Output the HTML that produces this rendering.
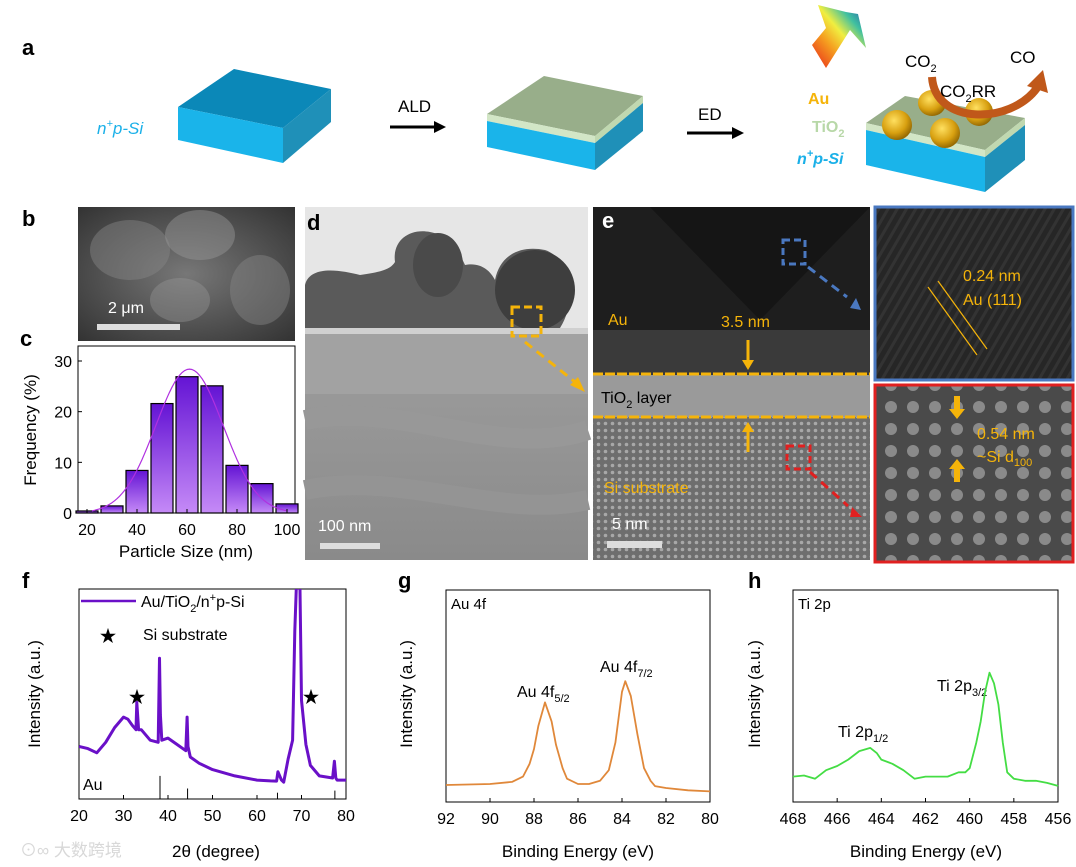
<!DOCTYPE html>
<html><head><meta charset="utf-8"><style>
html,body{margin:0;padding:0;background:#fff;}
svg{display:block;font-family:"Liberation Sans","Noto Sans CJK SC",sans-serif;}
</style></head><body>
<svg id="fig" width="1076" height="867" viewBox="0 0 1076 867" xmlns="http://www.w3.org/2000/svg">
<defs>
<linearGradient id="barGrad" x1="0" y1="0" x2="0" y2="1"><stop offset="0" stop-color="#6414d4"/><stop offset="1" stop-color="#c58af7"/></linearGradient>
<linearGradient id="rainbow" x1="0" y1="1" x2="1" y2="0"><stop offset="0" stop-color="#e8201a"/><stop offset="0.35" stop-color="#f5a020"/><stop offset="0.55" stop-color="#f0ee40"/><stop offset="0.75" stop-color="#40c0a0"/><stop offset="1" stop-color="#2050b0"/></linearGradient>
<radialGradient id="gold" cx="0.4" cy="0.35" r="0.7"><stop offset="0" stop-color="#ffe060"/><stop offset="0.6" stop-color="#d8a010"/><stop offset="1" stop-color="#8a6000"/></radialGradient>
<radialGradient id="semB" cx="0.5" cy="0.5" r="0.7"><stop offset="0" stop-color="#777"/><stop offset="1" stop-color="#333"/></radialGradient>
<linearGradient id="dGrad" x1="0" y1="0" x2="0" y2="1"><stop offset="0" stop-color="#a9a9a9"/><stop offset="1" stop-color="#8a8a8a"/></linearGradient>
<clipPath id="clipF"><rect x="79" y="589" width="267" height="210"/></clipPath>
<pattern id="siDots" width="7" height="7" patternUnits="userSpaceOnUse"><rect width="7" height="7" fill="#6e6e6e"/><circle cx="3.5" cy="3.5" r="1.8" fill="#a8a8a8"/></pattern>
<pattern id="siBig" width="22" height="22" patternUnits="userSpaceOnUse"><rect width="22" height="22" fill="#4a4a4a"/><circle cx="11" cy="11" r="6" fill="#8a8a8a"/></pattern>
<pattern id="auLines" width="8" height="8" patternUnits="userSpaceOnUse" patternTransform="rotate(30)"><rect width="8" height="8" fill="#262626"/><rect width="3" height="8" fill="#333"/></pattern>
</defs>

<!-- Panel a -->
<g>
<text x="22" y="55" font-size="22" font-weight="bold">a</text>
<g>
<polygon points="178,107 234,69 331,89 283,128" fill="#0b88b8"/>
<polygon points="178,107 283,128 283,163 178,140" fill="#1ab4ea"/>
<polygon points="283,128 331,89 331,122 283,163" fill="#1f90b8"/>
</g>
<text x="97" y="134" font-size="17" font-style="italic" fill="#1ab0e8">n<tspan font-size="11" dy="-7">+</tspan><tspan dy="7">p-Si</tspan></text>
<text x="398" y="112" font-size="17">ALD</text>
<g><line x1="390" y1="127" x2="436" y2="127" stroke="#000" stroke-width="3"/><polygon points="434,121 446,127 434,133" fill="#000"/></g>
<g>
<polygon points="487,114 544,76 643,96 595,136" fill="#98ae8a"/>
<polygon points="487,114 595,136 595,143 487,121" fill="#d2e6c6"/>
<polygon points="595,136 643,96 643,103 595,143" fill="#c0d8b0"/>
<polygon points="487,121 595,143 595,170 487,147" fill="#1ab4ea"/>
<polygon points="595,143 643,103 643,131 595,170" fill="#1f90b8"/>
</g>
<text x="698" y="120" font-size="17">ED</text>
<g><line x1="687" y1="133" x2="734" y2="133" stroke="#000" stroke-width="3"/><polygon points="732,127 744,133 732,139" fill="#000"/></g>
<g>
<polygon points="866,123 905,96 1025,118 985,150" fill="#98ae8a"/>
<polygon points="866,123 985,150 985,157 866,130" fill="#d2e6c6"/>
<polygon points="985,150 1025,118 1025,125 985,157" fill="#c0d8b0"/>
<polygon points="866,130 985,157 985,192 866,165" fill="#1ab4ea"/>
<polygon points="985,157 1025,125 1025,160 985,192" fill="#1f90b8"/>
<ellipse cx="897" cy="125" rx="15" ry="15" fill="url(#gold)"/>
<ellipse cx="932" cy="103" rx="14" ry="13" fill="url(#gold)"/>
<ellipse cx="945" cy="133" rx="15" ry="15" fill="url(#gold)"/>
<ellipse cx="979" cy="112" rx="14" ry="14" fill="url(#gold)"/>
</g>
<polygon points="818,5 846,12 858,14 866,48 850,30 826,68 812,45 826,28" fill="url(#rainbow)"/>
<text x="905" y="67" font-size="17">CO<tspan font-size="11" dy="5">2</tspan></text>
<text x="1010" y="63" font-size="17">CO</text>
<path d="M932,77 C935,125 1010,125 1037,88" fill="none" stroke="#c0581a" stroke-width="8"/>
<polygon points="1027,86 1043,70 1048,93" fill="#c0581a"/>
<text x="940" y="97" font-size="17">CO<tspan font-size="11" dy="5">2</tspan><tspan dy="-5">RR</tspan></text>
<text x="808" y="104" font-size="16" font-weight="bold" fill="#f5b40a">Au</text>
<text x="812" y="132" font-size="16" font-weight="bold" fill="#b8d8a8">TiO<tspan font-size="11" dy="5">2</tspan></text>
<text x="797" y="164" font-size="16" font-weight="bold" font-style="italic" fill="#1ab0e8">n<tspan font-size="11" dy="-7">+</tspan><tspan dy="7">p-Si</tspan></text>
</g>

<!-- Panel b -->
<g>
<text x="22" y="226" font-size="22" font-weight="bold">b</text>
<rect x="78" y="207" width="217" height="134" fill="url(#semB)"/>
<ellipse cx="130" cy="250" rx="40" ry="30" fill="#888" opacity="0.45"/>
<ellipse cx="200" cy="235" rx="35" ry="25" fill="#999" opacity="0.45"/>
<ellipse cx="260" cy="290" rx="30" ry="35" fill="#888" opacity="0.45"/>
<ellipse cx="180" cy="300" rx="30" ry="22" fill="#999" opacity="0.4"/>
<text x="108" y="313" font-size="16" fill="#fff">2 μm</text>
<rect x="97" y="324" width="83" height="6" fill="#ddd"/>
</g>

<!-- Panel c -->
<g id="panelC">
<text x="20" y="346" font-size="22" font-weight="bold">c</text>
<rect x="78" y="346" width="217" height="167" fill="none" stroke="#000" stroke-width="1"/>
<text transform="translate(36,430) rotate(-90)" text-anchor="middle" font-size="17">Frequency (%)</text>
<text x="186" y="557" text-anchor="middle" font-size="17">Particle Size (nm)</text>
</g>

<!-- Panel d -->
<g>
<rect x="305" y="207" width="283" height="353" fill="url(#dGrad)"/>
<rect x="305" y="207" width="283" height="125" fill="#e6e6e6"/>
<path d="M305,330 L305,285 C310,265 340,270 360,275 C380,272 390,270 395,262 C392,240 410,228 430,232 C450,236 458,250 465,265 C480,262 490,270 495,280 C500,255 520,245 545,250 C570,258 578,300 560,328 Z" fill="#5a5a5a"/>
<ellipse cx="535" cy="290" rx="40" ry="40" fill="#3e3e3e"/>
<ellipse cx="438" cy="265" rx="25" ry="32" fill="#4a4a4a"/>
<rect x="305" y="328" width="283" height="6" fill="#d0d0d0"/>
<rect x="305" y="334" width="283" height="60" fill="#a2a2a2"/>
<path d="M305,420 C400,400 500,460 588,430" stroke="#989898" stroke-width="20" fill="none"/>
<path d="M305,490 C400,470 500,520 588,500" stroke="#949494" stroke-width="20" fill="none"/>
<text x="307" y="230" font-size="22" font-weight="bold">d</text>
<rect x="512" y="307" width="29" height="29" fill="none" stroke="#f5b40a" stroke-width="3" stroke-dasharray="8,4"/>
<line x1="525" y1="342" x2="575" y2="382" stroke="#f5b40a" stroke-width="3" stroke-dasharray="9,6"/>
<polygon points="570,385 585,392 578,377" fill="#f5b40a"/>
<text x="318" y="531" font-size="16" fill="#fff">100 nm</text>
<rect x="320" y="543" width="60" height="6" fill="#ddd"/>
</g>

<!-- Panel e -->
<g>
<rect x="593" y="207" width="277" height="168" fill="#1e1e1e"/>
<polygon points="650,207 760,320 870,207" fill="#151515"/>
<polygon points="593,330 870,330 870,375 593,375" fill="#3a3a3a"/>
<rect x="593" y="375" width="277" height="42" fill="#9a9a9a"/>
<rect x="593" y="417" width="277" height="143" fill="url(#siDots)"/>
<text x="602" y="228" font-size="22" font-weight="bold" fill="#fff">e</text>
<line x1="593" y1="374" x2="870" y2="374" stroke="#f5b40a" stroke-width="3" stroke-dasharray="10,2"/>
<line x1="593" y1="417" x2="870" y2="417" stroke="#f5b40a" stroke-width="3" stroke-dasharray="10,2"/>
<text x="608" y="325" font-size="16" fill="#f5b40a">Au</text>
<text x="721" y="327" font-size="16" fill="#f5b40a">3.5 nm</text>
<line x1="748" y1="340" x2="748" y2="362" stroke="#f5b40a" stroke-width="3"/><polygon points="742,360 754,360 748,370" fill="#f5b40a"/>
<line x1="748" y1="430" x2="748" y2="452" stroke="#f5b40a" stroke-width="3"/><polygon points="742,432 754,432 748,422" fill="#f5b40a"/>
<text x="601" y="403" font-size="16" fill="#000">TiO<tspan font-size="11" dy="5">2</tspan><tspan dy="-5"> layer</tspan></text>
<text x="604" y="493" font-size="16" fill="#f5b40a">Si substrate</text>
<rect x="783" y="240" width="22" height="24" fill="none" stroke="#4a78c0" stroke-width="3" stroke-dasharray="7,4"/>
<line x1="808" y1="267" x2="847" y2="297" stroke="#4a78c0" stroke-width="3" stroke-dasharray="9,6"/>
<polygon points="850,308 861,310 856,298" fill="#4a78c0"/>
<rect x="787" y="446" width="23" height="23" fill="none" stroke="#e02020" stroke-width="3" stroke-dasharray="7,4"/>
<line x1="810" y1="472" x2="848" y2="506" stroke="#e02020" stroke-width="3" stroke-dasharray="9,6"/>
<polygon points="852,507 862,517 850,517" fill="#e02020"/>
<text x="612" y="529" font-size="16" fill="#fff">5 nm</text>
<rect x="607" y="541" width="55" height="7" fill="#ddd"/>
</g>
<g>
<rect x="875" y="207" width="198" height="173" fill="url(#auLines)" stroke="#4a78c0" stroke-width="3"/>
<line x1="928" y1="287" x2="977" y2="355" stroke="#f5b40a" stroke-width="1.2"/>
<line x1="938" y1="281" x2="987" y2="349" stroke="#f5b40a" stroke-width="1.2"/>
<text x="963" y="281" font-size="16" fill="#f5b40a">0.24 nm</text>
<text x="963" y="305" font-size="16" fill="#f5b40a">Au (111)</text>
</g>
<g>
<rect x="875" y="385" width="198" height="177" fill="url(#siBig)" stroke="#e02020" stroke-width="3"/>
<rect x="954" y="396" width="6" height="15" fill="#f5b40a"/><polygon points="949,409 965,409 957,419" fill="#f5b40a"/>
<rect x="954" y="467" width="6" height="15" fill="#f5b40a"/><polygon points="949,469 965,469 957,459" fill="#f5b40a"/>
<text x="977" y="439" font-size="16" fill="#f5b40a">0.54 nm</text>
<text x="977" y="462" font-size="16" fill="#f5b40a">~Si d<tspan font-size="11" dy="4">100</tspan></text>
</g>

<!-- Panel f -->
<g id="panelF">
<text x="22" y="588" font-size="22" font-weight="bold">f</text>
<rect x="79" y="589" width="267" height="210" fill="none" stroke="#000" stroke-width="1"/>
<text transform="translate(40,694) rotate(-90)" text-anchor="middle" font-size="17">Intensity (a.u.)</text>
<text x="216" y="857" text-anchor="middle" font-size="17">2θ (degree)</text>
<line x1="81" y1="601" x2="136" y2="601" stroke="#6a10c8" stroke-width="2.5"/>
<text x="141" y="607" font-size="16">Au/TiO<tspan font-size="11" dy="5">2</tspan><tspan dy="-5">/n</tspan><tspan font-size="11" dy="-6">+</tspan><tspan dy="6">p-Si</tspan></text>
<text x="108" y="642" font-size="17" text-anchor="middle">★</text>
<text x="143" y="640" font-size="16">Si substrate</text>
<text x="137" y="703" font-size="17" text-anchor="middle">★</text>
<text x="311" y="703" font-size="17" text-anchor="middle">★</text>
<text x="83" y="790" font-size="16">Au</text>
<text x="20" y="856" font-size="17" fill="#d8d8d8">⊙∞ 大数跨境</text>
</g>

<!-- Panel g -->
<g id="panelG">
<text x="398" y="588" font-size="22" font-weight="bold">g</text>
<rect x="446" y="590" width="264" height="212" fill="none" stroke="#000" stroke-width="1"/>
<text transform="translate(412,694) rotate(-90)" text-anchor="middle" font-size="17">Intensity (a.u.)</text>
<text x="578" y="857" text-anchor="middle" font-size="17">Binding Energy (eV)</text>
<text x="451" y="609" font-size="15">Au 4f</text>
<text x="517" y="697" font-size="16">Au 4f<tspan font-size="11" dy="5">5/2</tspan></text>
<text x="600" y="672" font-size="16">Au 4f<tspan font-size="11" dy="5">7/2</tspan></text>
</g>

<!-- Panel h -->
<g id="panelH">
<text x="748" y="588" font-size="22" font-weight="bold">h</text>
<rect x="793" y="590" width="265" height="212" fill="none" stroke="#000" stroke-width="1"/>
<text transform="translate(760,694) rotate(-90)" text-anchor="middle" font-size="17">Intensity (a.u.)</text>
<text x="926" y="857" text-anchor="middle" font-size="17">Binding Energy (eV)</text>
<text x="798" y="609" font-size="15">Ti 2p</text>
<text x="838" y="737" font-size="16">Ti 2p<tspan font-size="11" dy="5">1/2</tspan></text>
<text x="937" y="691" font-size="16">Ti 2p<tspan font-size="11" dy="5">3/2</tspan></text>
</g>
</svg>
<script>
// Panel c data
var sizeBins = [20,30,40,50,60,70,80,90,100];
var freqValues = [0.4,1.4,8.4,21.6,26.9,25.1,9.4,5.8,1.8];
var freqTicks = [0,10,20,30];
var sizeTicks = [20,40,60,80,100];
var fitParams = [61,28.4,13.5]; // center, peak, sigma of Gaussian fit
// Panel f data
var xrdAngle = [20,22,24,26,28,30,31,32,32.8,33,33.4,34,36,37.8,38.1,38.3,38.6,40,42,44,44.3,44.5,45,47,50,55,60,63,64.4,64.7,65.5,66,67,68,68.5,69,69.6,70,71,72,74,77,77.4,77.7,78,80];
var xrdIntensity = [25,24,22,27,34,39,38,35,33,46,33,33,28,27,67,40,28,29,26,23,39,25,20,17,14,11,9,8.6,8.5,13,9,8,19,28,80,110,110,47,26,16,11,10,18,10,9,9];
var refAngle = [38.2,44.4,64.6,77.5];
var refHeight = [11,5,3,4];
var xrdTicks = [20,30,40,50,60,70,80];
// Panel g data
var auEnergy = [92,90,89,88.5,88.2,88,87.8,87.5,87.2,87,86.7,86.5,86,85.5,85,84.6,84.3,84,83.85,83.6,83.3,83,82.7,82.5,82,81,80];
var auIntensity = [8,8.5,9.5,12,18,25,36,47,38,27,16,11,8.5,8.5,10,15,28,52,57,50,32,16,10,7.5,6.6,5.5,5];
var auTicks = [92,90,88,86,84,82,80];
// Panel h data
var tiEnergy = [468,467.5,467,466.5,466,465.5,465,464.5,464.2,464,463.5,463,462.5,462,461.5,461,460.5,460.2,460,459.7,459.5,459.3,459.1,458.9,458.7,458.5,458.3,458,457.5,457,456.5,456];
var tiIntensity = [12,12.5,11,15,17,20,24,25.5,23,20,18,15,11,12,12,12,14,14,16,28,38,52,61,56,46,28,14,11,10,10,9,7.6];
var tiTicks = [468,466,464,462,460,458,456];

var NS='http://www.w3.org/2000/svg';
function mk(tag, attrs, parent){var e=document.createElementNS(NS,tag);for(var k in attrs)e.setAttribute(k,attrs[k]);parent.appendChild(e);return e;}
function lin(d0,d1,r0,r1){return function(v){return r0+(v-d0)/(d1-d0)*(r1-r0);};}
function xTicks(g,ticks,sx,yBase,name){
  ticks.forEach(function(t){
    var l=mk('line',{x1:sx(t),x2:sx(t),y1:yBase,y2:yBase-4,stroke:'#000'},g);
    
    
    var tx=mk('text',{x:sx(t),y:yBase+22,'text-anchor':'middle','font-size':'16'},g);
    tx.textContent=t;
    
    
  });
}
function drawLine(g,xs,ys,sx,sy,color,w,name,clip){
  var d=xs.map(function(x,i){return (i?'L':'M')+sx(x).toFixed(1)+','+sy(ys[i]).toFixed(1);}).join(' ');
  var p=mk('path',{d:d,fill:'none',stroke:color,'stroke-width':w,'stroke-linejoin':'round'},g);
  if(clip)p.setAttribute('clip-path','url(#'+clip+')');
  
  
}

// Panel c
(function(){
  var g=document.getElementById('panelC');
  var sx=lin(20,100,87,287), sy=lin(0,30,513,361);
  sizeBins.forEach(function(b,i){
    var w=sx(b+4.4)-sx(b-4.4);
    var r=mk('rect',{x:sx(b)-w/2,y:sy(freqValues[i]),width:w,height:sy(0)-sy(freqValues[i]),fill:'url(#barGrad)',stroke:'#000','stroke-width':1.2},g);
    
    
  });
  var xs=[],ys=[];
  for(var x=22;x<=100;x+=1){xs.push(x);ys.push(fitParams[1]*Math.exp(-Math.pow(x-fitParams[0],2)/(2*fitParams[2]*fitParams[2])));}
  drawLine(g,xs,ys,sx,sy,'#b030e0',1.2,'gaussian-fit-curve');
  freqTicks.forEach(function(t){
    var l=mk('line',{x1:78,x2:82,y1:sy(t),y2:sy(t),stroke:'#000'},g);
    
    
    var tx=mk('text',{x:72,y:sy(t)+6,'text-anchor':'end','font-size':'16'},g);
    tx.textContent=t;
    
    
  });
  xTicks(g,sizeTicks,sx,513,'x-c');
})();
// Panel f
(function(){
  var g=document.getElementById('panelF');
  var sx=lin(20,80,79,346), sy=lin(0,100,799,589);
  drawLine(g,xrdAngle,xrdIntensity,sx,sy,'#6a10c8',3,'xrd-pattern','clipF');
  refAngle.forEach(function(a,i){
    var l=mk('line',{x1:sx(a),x2:sx(a),y1:sy(0),y2:sy(refHeight[i]),stroke:'#000','stroke-width':1},g);
    
    
  });
  xTicks(g,xrdTicks,sx,799,'x-f');
})();
// Panel g
(function(){
  var g=document.getElementById('panelG');
  var sx=lin(92,80,446,710), sy=lin(0,100,802,590);
  drawLine(g,auEnergy,auIntensity,sx,sy,'#e0883a',1.8,'au-4f-spectrum');
  xTicks(g,auTicks,sx,802,'x-g');
})();
// Panel h
(function(){
  var g=document.getElementById('panelH');
  var sx=lin(468,456,793,1058), sy=lin(0,100,802,590);
  drawLine(g,tiEnergy,tiIntensity,sx,sy,'#44dd44',1.8,'ti-2p-spectrum');
  xTicks(g,tiTicks,sx,802,'x-h');
})();
</script>
</body></html>
